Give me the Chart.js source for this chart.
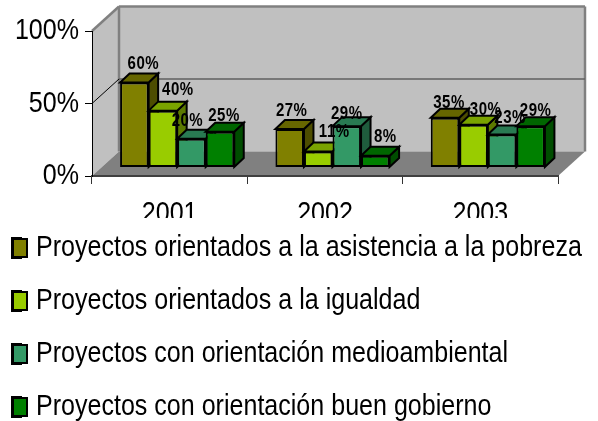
<!DOCTYPE html>
<html><head><meta charset="utf-8">
<script src="https://cdn.jsdelivr.net/npm/chart.js@4"></script>
<style>html,body{margin:0;padding:0;background:#fff}canvas{display:block}</style>
</head><body><canvas id="c" width="598" height="421"></canvas>
<script>
const categories = ['2001', '2002', '2003'];
const seriesNames = [
  'Proyectos orientados a la asistencia a la pobreza',
  'Proyectos orientados a la igualdad',
  'Proyectos con orientación medioambiental',
  'Proyectos con orientación buen gobierno'
];
const pobreza = [60, 27, 35];
const igualdad = [40, 11, 30];
const medioambiental = [20, 29, 23];
const gobierno = [25, 8, 29];
const yTicks = [0, 50, 100];

const frontColors = ['#808000', '#99cc00', '#339966', '#008000'];
const topColors = ['#666600', '#7aa300', '#297a52', '#006600'];
const sideColors = ['#4d4d00', '#5c7a00', '#1f5c3d', '#004d00'];
const seriesValues = [pobreza, igualdad, medioambiental, gobierno];

// nudges of the value labels relative to each bar [dx, lift]
const labelNudges = [
  [[9, 13], [2, 13], [4, 10]],
  [[15, 16], [16, 14], [12, 10]],
  [[-4, 13], [0, 7], [8, 12]],
  [[4, 11], [10, 14], [5, 10]]
];

const FONT = "'Liberation Sans',Arial,sans-serif";
const NARROW = 0.835;                 // the source text is horizontally condensed
const WALL_DX = 27, WALL_DY = 24.5;   // wall depth
const BAR_DX = 9.5, BAR_DY = 9;       // bar depth
const SHIFT_X = 7.5, SHIFT_Y = -9;    // bars sit in the middle of the floor
const X_LABEL_CUT = 218;              // the category labels are cut off here in the source

const canvas = document.getElementById('c');
const context = canvas.getContext('2d');
const rawFillText = context.fillText.bind(context);
context.fillText = function (text, x, y) {
  context.save();
  context.translate(x, y);
  context.scale(NARROW, 1);
  rawFillText(text, 0, 0);
  context.restore();
};

function poly(ctx, pts, fill, stroke, lw) {
  ctx.beginPath();
  pts.forEach((p, i) => i ? ctx.lineTo(p[0], p[1]) : ctx.moveTo(p[0], p[1]));
  ctx.closePath();
  if (fill) { ctx.fillStyle = fill; ctx.fill(); }
  if (stroke) { ctx.strokeStyle = stroke; ctx.lineWidth = lw; ctx.lineJoin = 'miter'; ctx.stroke(); }
}
function line(ctx, x1, y1, x2, y2, color, lw) {
  ctx.beginPath(); ctx.moveTo(x1, y1); ctx.lineTo(x2, y2);
  ctx.strokeStyle = color; ctx.lineWidth = lw; ctx.stroke();
}

const scene3d = {
  id: 'scene3d',
  beforeDraw(chart) {
    const ctx = chart.ctx, a = chart.chartArea, y = chart.scales.y;
    const L = a.left, R = a.right, T = a.top, B = a.bottom;
    const bL = L + WALL_DX, bR = R + WALL_DX, bT = T - WALL_DY, bB = B - WALL_DY;
    ctx.save();
    ctx.fillStyle = '#fff'; ctx.fillRect(0, 0, chart.width, chart.height);
    poly(ctx, [[bL, bT], [bR, bT], [bR, bB], [bL, bB]], '#c0c0c0');
    poly(ctx, [[L, T], [bL, bT], [bL, bB], [L, B]], '#c0c0c0');
    poly(ctx, [[L, B], [bL, bB], [bR, bB], [R, B]], '#808080');
    line(ctx, L, T, bL, bT, '#808080', 2.5);
    line(ctx, bL, bT, bR, bT, '#808080', 2.5);
    line(ctx, bL, bT, bL, bB, '#808080', 2.5);
    line(ctx, bR, bT, bR, bB, '#808080', 2.5);
    const g = y.getPixelForValue(yTicks[1]);
    line(ctx, bL, g - WALL_DY, bR, g - WALL_DY, '#606060', 1.5);
    line(ctx, L, g, bL, g - WALL_DY, '#000', 1);
    ctx.restore();
  },
  beforeDatasetsDraw(chart) {
    const ctx = chart.ctx;
    ctx.save();
    ctx.translate(SHIFT_X, SHIFT_Y);
    const metas = seriesValues.map((_, i) => chart.getDatasetMeta(i));
    categories.forEach((_, c) => {
      metas.forEach((meta, s) => {
        const el = meta.data[c];
        const l = el.x - el.width / 2, r = el.x + el.width / 2, t = el.y, b = el.base;
        poly(ctx, [[r, t], [r + BAR_DX, t - BAR_DY], [r + BAR_DX, b - BAR_DY], [r, b]], sideColors[s], '#000', 2);
        poly(ctx, [[l, t], [l + BAR_DX, t - BAR_DY], [r + BAR_DX, t - BAR_DY], [r, t]], topColors[s], '#000', 2);
        el.draw(ctx);
      });
    });
    ctx.fillStyle = '#000';
    ctx.textAlign = 'center';
    ctx.textBaseline = 'alphabetic';
    ctx.font = 'bold 18px ' + FONT;
    ctx.letterSpacing = '0.6px';
    metas.forEach((meta, s) => {
      categories.forEach((_, c) => {
        const el = meta.data[c], n = labelNudges[s][c];
        ctx.fillText(seriesValues[s][c] + '%', el.x + n[0], el.y - n[1]);
      });
    });
    ctx.restore();
    return false;
  },
  afterDraw(chart) {
    const ctx = chart.ctx, lg = chart.legend;
    ctx.save();
    lg.legendHitBoxes.forEach((h, i) => {
      const cy = h.top + h.height / 2;
      ctx.fillStyle = frontColors[i];
      ctx.fillRect(h.left + 1, cy - 9, 14, 18);
      ctx.strokeStyle = '#000'; ctx.lineWidth = 2;
      ctx.strokeRect(h.left + 1, cy - 9, 14, 18);
    });
    ctx.restore();
  }
};

new Chart(context, {
  type: 'bar',
  data: {
    labels: categories,
    datasets: seriesNames.map((name, i) => ({
      label: name,
      data: seriesValues[i],
      yAxisID: 'bars',
      backgroundColor: frontColors[i],
      borderColor: '#000',
      borderWidth: 2,
      borderSkipped: false,
      categoryPercentage: 0.735,
      barPercentage: 1
    }))
  },
  plugins: [scene3d],
  options: {
    responsive: false,
    animation: false,
    layout: { padding: { left: -11, right: 0, top: 31, bottom: -11 } },
    plugins: {
      title: { display: false },
      tooltip: { enabled: false },
      legend: {
        position: 'bottom',
        align: 'start',
        maxHeight: 235,
        labels: {
          boxWidth: 9, boxHeight: 20, padding: 23, color: '#000',
          font: { family: FONT, size: 30 }
        }
      }
    },
    scales: {
      x: {
        grid: { drawOnChartArea: false, offset: true, color: '#333', tickLength: 8, lineWidth: 1 },
        border: { color: '#404040', width: 2 },
        ticks: { color: '#000', padding: 12, maxRotation: 0, font: { family: FONT, size: 30 } },
        afterFit(s) {
          s.height = 34;
          s._computeLabelArea = () => ({ left: 0, right: 598, top: 0, bottom: X_LABEL_CUT });
        }
      },
      y: {
        position: 'left', min: 0, max: 100,
        afterBuildTicks(s) { s.ticks = yTicks.map(v => ({ value: v })); },
        grid: { drawOnChartArea: false, color: '#000', tickLength: 7 },
        border: { color: '#000', width: 1 },
        ticks: { color: '#000', padding: 6, font: { family: FONT, size: 30 }, callback: v => v + '%' },
        afterFit(s) { s.width = 103; }
      },
      bars: {
        position: 'right', min: 0, max: 102.9,
        grid: { display: false }, border: { display: false }, ticks: { display: false },
        afterFit(s) { s.width = 40; }
      }
    }
  }
});
</script></body></html>
